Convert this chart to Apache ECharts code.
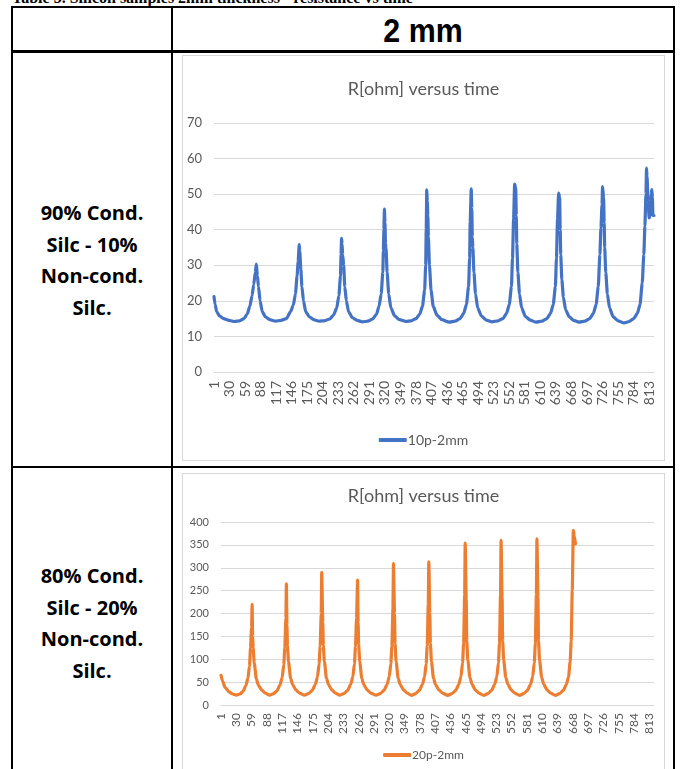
<!DOCTYPE html>
<html>
<head>
<meta charset="utf-8">
<script src="https://cdn.jsdelivr.net/npm/echarts@6/dist/echarts.min.js"></script>
<style>
  html, body { margin: 0; padding: 0; background: #fff; width: 683px; height: 769px; overflow: hidden; }
  .abs { position: absolute; }
  .hl { position: absolute; background: #000; }
  .caption { position: absolute; left: 12px; top: -11px; font: bold 16px "Liberation Serif", serif; color: #000; white-space: nowrap; }
  .head { position: absolute; left: 172px; width: 502px; top: 8px; height: 44px; text-align: center; font: bold 33px "Liberation Sans", sans-serif; line-height: 46px; color: #000; transform: scaleX(0.92); }
  .rowlab { position: absolute; left: 12px; width: 160px; text-align: center; font: bold 20px "Open Sans", "Liberation Sans", sans-serif; line-height: 31.5px; color: #000; }
  .chartbox { position: absolute; border: 1px solid #d9d9d9; box-sizing: border-box; }
</style>
</head>
<body>
<div class="caption">Table 3. Silicon samples 2mm thickness - resistance vs time</div>
<!-- table lines -->
<div class="hl" style="left:11px; top:6px; width:664px; height:2px;"></div>
<div class="hl" style="left:11px; top:50px; width:664px; height:3px;"></div>
<div class="hl" style="left:11px; top:466px; width:664px; height:2px;"></div>
<div class="hl" style="left:11px; top:6px; width:2px; height:763px;"></div>
<div class="hl" style="left:171px; top:6px; width:2px; height:763px;"></div>
<div class="hl" style="left:673px; top:6px; width:2px; height:763px;"></div>
<div class="head">2 mm</div>
<div class="rowlab" style="top:197px;">90% Cond.<br>Silc - 10%<br>Non-cond.<br>Silc.</div>
<div class="rowlab" style="top:560px;">80% Cond.<br>Silc - 20%<br>Non-cond.<br>Silc.</div>
<div class="chartbox" style="left:182px; top:55px; width:483px; height:406px;"></div>
<div class="chartbox" style="left:182px; top:473px; width:483px; height:300px;"></div>
<div id="c1" class="abs" style="left:182px; top:55px; width:483px; height:406px;"></div>
<div id="c2" class="abs" style="left:182px; top:473px; width:483px; height:296px;"></div>
<script>
// Sample numbers (time steps) shown on the category axis
const sampleCount = 822;
const timeSteps = Array.from({length: sampleCount}, (_, i) => String(i + 1));

const titleText = 'R[ohm] versus time';
const series1Name = '10p-2mm';
const series2Name = '20p-2mm';
const yTicks1 = [0, 10, 20, 30, 40, 50, 60, 70];
const yTicks2 = [0, 50, 100, 150, 200, 250, 300, 350, 400];

// [sample index, R (ohm)]
const r10p = [
  [0,21.2],[2,19],[5,17],[10,15.8],[18,15],[28,14.5],[38,14.2],[48,14.4],[56,15],[62,16.3],[67,18.5],[71,21.5],[74,24.5],[77,28],[79,30.3],[81,27],[83,24],[86,20],[90,17],[96,15.5],[104,14.7],[115,14.3],[125,14.5],[135,15],[143,17],[148,18.8],[152,22],[155,27],[157,31],[159,35.8],[160,34],[162,29],[164,24],[167,20],[171,17],[178,15.5],[186,14.7],[196,14.3],[206,14.4],[216,14.9],[223,16],[229,18],[233,21.5],[236,27],[237,33],[238,37.6],[239,36],[240,33],[242,30],[244,24],[247,20],[251,17],[258,15.3],[267,14.5],[277,14.1],[287,14.3],[296,14.9],[303,16.2],[308,18.5],[312,22],[315,28],[316,34],[317,40],[318,45.8],[319,42],[320,36],[321,34.8],[323,28],[326,22],[330,18],[337,15.8],[346,14.7],[358,14.2],[368,14.4],[377,15],[384,16.3],[389,18.5],[393,23],[395,30],[396,40],[397,51.2],[398,48],[399,44],[400,38],[402,30],[405,23],[409,18.5],[416,16],[425,14.7],[439,14],[450,14.3],[459,15],[466,16.5],[471,19],[475,24],[477,32],[478,42],[480,51.5],[481,46],[482,38],[483,35],[485,28],[488,22],[492,18],[499,15.7],[508,14.6],[519,14.1],[530,14.4],[539,15],[546,16.5],[551,19],[555,24],[557,32],[559,43],[561,52.8],[563,52],[564,44],[565,36],[567,28],[570,22],[574,18],[581,15.6],[590,14.6],[601,14],[612,14.3],[621,15],[628,16.5],[633,19],[637,24],[639,32],[641,43],[643,50.3],[645,49],[646,40],[647,33],[649,26],[652,21],[656,17.5],[663,15.5],[671,14.5],[681,14],[692,14.3],[701,15],[708,16.5],[713,19],[717,24],[720,33],[722,40.5],[724,47],[725,52.1],[727,49],[728,42],[729,35],[731,28],[734,22],[738,18],[745,15.5],[754,14.4],[765,13.8],[775,14.2],[783,15],[790,16.5],[795,19],[799,25],[802,33],[804,41],[806,50],[807,57.3],[808,55],[810,48],[812,43.3],[814,44],[816,50],[817,51.3],[818,49],[819,44],[821,44]
];
const r20p = [
  [0,65],[3,52],[8,38],[15,29],[22,24],[29,21.5],[36,24],[42,30],[47,42],[51,58],[54,85],[56,125],[58,170],[59,220],[60,150],[61,125],[63,92],[67,57],[71,43],[77,33],[84,26],[92,21.5],[100,25],[106,31],[112,44],[116,60],[119,88],[121,125],[123,190],[124,265],[125,175],[126,130],[128,95],[132,58],[136,44],[142,33],[149,26],[158,21.5],[166,25],[173,32],[179,45],[183,62],[186,90],[188,128],[190,200],[191,290],[193,180],[194,130],[196,95],[200,58],[204,44],[210,33],[217,26],[225,21.5],[233,25],[240,32],[246,45],[250,62],[253,90],[255,128],[257,190],[259,273],[260,180],[261,132],[263,95],[267,58],[271,44],[277,33],[284,26],[294,21.5],[302,25],[309,32],[315,45],[319,62],[322,90],[324,128],[326,210],[327,309],[329,200],[330,135],[332,95],[336,58],[340,44],[346,33],[353,26],[361,21],[369,25],[376,32],[382,45],[386,62],[389,90],[391,130],[393,220],[394,313],[396,200],[397,135],[399,95],[403,58],[407,44],[413,33],[420,26],[430,21],[438,25],[445,32],[451,45],[455,62],[458,92],[460,135],[462,240],[463,354],[465,230],[466,140],[468,98],[472,60],[476,45],[482,33],[489,26],[498,21],[506,25],[513,32],[519,45],[523,62],[526,92],[528,135],[530,240],[531,360],[533,235],[534,140],[536,98],[540,60],[544,45],[550,33],[557,26],[566,21],[574,25],[581,32],[587,45],[591,62],[594,92],[596,135],[598,240],[599,363],[601,235],[602,140],[604,98],[608,60],[612,45],[618,33],[625,26],[634,21],[642,25],[649,32],[655,45],[659,62],[662,95],[664,140],[666,250],[668,382],[670,370],[672,352]
];

const FONT = 'Lato, "Liberation Sans", sans-serif';
const GRAY = '#595959';
const GRID = '#d9d9d9';

function makeOption(cfg) {
  return {
    animation: false,
    textStyle: { fontFamily: FONT },
    title: {
      text: titleText, left: 'center', top: cfg.titleTop,
      textStyle: { fontFamily: FONT, fontSize: 18, fontWeight: 'normal', color: GRAY }
    },
    legend: {
      data: [cfg.name], bottom: cfg.legendBottom, left: 'center',
      icon: 'roundRect', itemWidth: 28, itemHeight: 4, itemGap: 4,
      textStyle: { fontFamily: FONT, fontSize: cfg.legendFont, color: GRAY, padding: [0, 0, 0, -4] }
    },
    grid: { left: cfg.left, right: cfg.right, top: cfg.top, bottom: cfg.bottom, containLabel: false },
    xAxis: {
      type: 'category', data: timeSteps, boundaryGap: false,
      axisTick: { show: false },
      axisLine: { lineStyle: { color: GRID, width: 1 } },
      axisLabel: { interval: 28, rotate: 90, fontFamily: FONT, fontSize: cfg.xFont, color: GRAY, margin: cfg.xMargin },
      splitLine: { show: false }
    },
    yAxis: {
      type: 'value', min: cfg.ticks[0], max: cfg.ticks[cfg.ticks.length - 1], interval: cfg.ticks[1] - cfg.ticks[0],
      axisLine: { show: false }, axisTick: { show: false },
      axisLabel: { fontFamily: FONT, fontSize: cfg.yFont, color: GRAY, margin: cfg.yMargin },
      splitLine: { lineStyle: { color: GRID, width: 1 } }
    },
    series: [{
      name: cfg.name, type: 'line', data: cfg.data, showSymbol: false,
      smooth: 0.2, smoothMonotone: 'x',
      lineStyle: { color: cfg.color, width: cfg.lw, cap: 'round', join: 'round' },
      itemStyle: { color: cfg.color }
    }]
  };
}

const c1 = echarts.init(document.getElementById('c1'), null, { renderer: 'canvas' });
c1.setOption(makeOption({
  name: series1Name, data: r10p, color: '#4472C4', ticks: yTicks1, lw: 3.2,
  titleTop: 20, legendBottom: 9, legendFont: 14,
  left: 32, right: 11, top: 68, bottom: 89, xFont: 14, xMargin: 9, yFont: 13, yMargin: 12
}));

const c2 = echarts.init(document.getElementById('c2'), null, { renderer: 'canvas' });
c2.setOption(makeOption({
  name: series2Name, data: r20p, color: '#ED7D31', ticks: yTicks2, lw: 3.2,
  titleTop: 9, legendBottom: 3, legendFont: 12,
  left: 39, right: 11, top: 49, bottom: 64, xFont: 12, xMargin: 8, yFont: 11, yMargin: 12
}));
</script>
</body>
</html>
